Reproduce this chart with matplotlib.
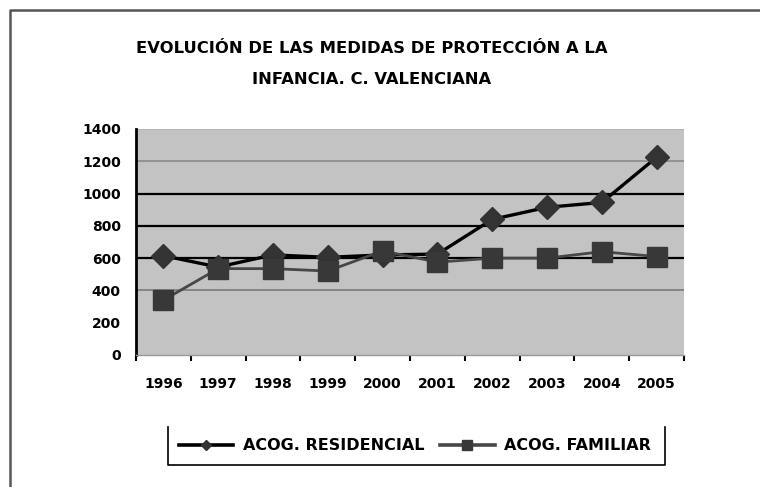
import numpy as np
import matplotlib.pyplot as plt
from matplotlib.lines import Line2D

years = ["1996", "1997", "1998", "1999", "2000", "2001", "2002", "2003", "2004", "2005"]
residencial = [615, 545, 620, 605, 620, 625, 840, 915, 945, 1225]
familiar = [340, 535, 535, 520, 645, 575, 600, 600, 640, 610]
yticks = [0, 200, 400, 600, 800, 1000, 1200, 1400]

title = "EVOLUCIÓN DE LAS MEDIDAS DE PROTECCIÓN A LA\nINFANCIA. C. VALENCIANA"
labels = ["ACOG. RESIDENCIAL", "ACOG. FAMILIAR"]

plt.rcParams['font.family'] = ['DejaVu Sans']

fig = plt.figure(figsize=(7.6, 4.87), dpi=100)
ax = fig.add_axes([136/760, 1-355/487, (684-136)/760, (355-129)/487])
ax.set_facecolor('#c3c3c3')

x = np.arange(len(years))
ax.set_xlim(-0.5, len(years)-0.5)
ax.set_ylim(0, 1400)

# gridlines, darker in the middle like the scan
grid_col = {400: '#7a7a7a', 600: 'black', 800: 'black',
            1000: 'black', 1200: '#8a8a8a', 1400: '#b0b0b0'}
for v in yticks:
    c = grid_col.get(v)
    if c:
        ax.axhline(v, color=c, lw=1.6 if c == 'black' else 1.2, zorder=1)

ax.plot(x, residencial, color='black', lw=2.4, marker='D', markersize=12,
        markerfacecolor='#333333', markeredgecolor='#333333', zorder=3)
ax.plot(x, familiar, color='#474747', lw=2.0, marker='s', markersize=15,
        markerfacecolor='#383838', markeredgecolor='#383838', zorder=4)

ax.set_yticks(yticks)
ax.set_yticklabels([str(v) for v in yticks], fontsize=10, fontweight='bold')
ax.tick_params(axis='y', length=0, pad=11)

ax.set_xticks(x)
ax.set_xticklabels(years, fontsize=10, fontweight='bold')
ax.tick_params(axis='x', length=0, pad=16)
ax.set_xticks(np.arange(-0.5, len(years)), minor=True)
ax.tick_params(axis='x', which='minor', length=4, width=1.5, direction='out')

for s in ['top', 'right']:
    ax.spines[s].set_visible(False)
ax.spines['left'].set_linewidth(2)
ax.spines['bottom'].set_color('#9a9a9a')
ax.spines['bottom'].set_linewidth(1)

fig.text(372/760, 1-64/487, title, ha='center', va='center', fontsize=11.8,
         fontweight='bold', linespacing=2.3)

# legend
handles = [Line2D([], [], color='black', lw=2.6, marker='D', markersize=5,
                  markerfacecolor='#333333', markeredgecolor='#333333'),
           Line2D([], [], color='#474747', lw=2.6, marker='s', markersize=7,
                  markerfacecolor='#383838', markeredgecolor='#383838')]
leg = fig.legend(handles, labels, loc='center', bbox_to_anchor=(415/760, 1-446/487),
                 ncol=2, frameon=False, prop={'weight': 'bold', 'size': 11.5},
                 handlelength=3.4, columnspacing=1.0, handletextpad=0.6)
l, r, t, b = 168/760, 665/760, 1-427/487, 1-465/487
fig.add_artist(Line2D([l, l, r, r], [t, b, b, t], color='black', lw=1.2,
                      transform=fig.transFigure))

# outer frame (top and left)
fig.add_artist(Line2D([10/760, 10/760, 1.0], [0.0, 1-10/487, 1-10/487],
                      color='#555555', lw=1.8, transform=fig.transFigure))

fig.savefig('out.png', dpi=100)
